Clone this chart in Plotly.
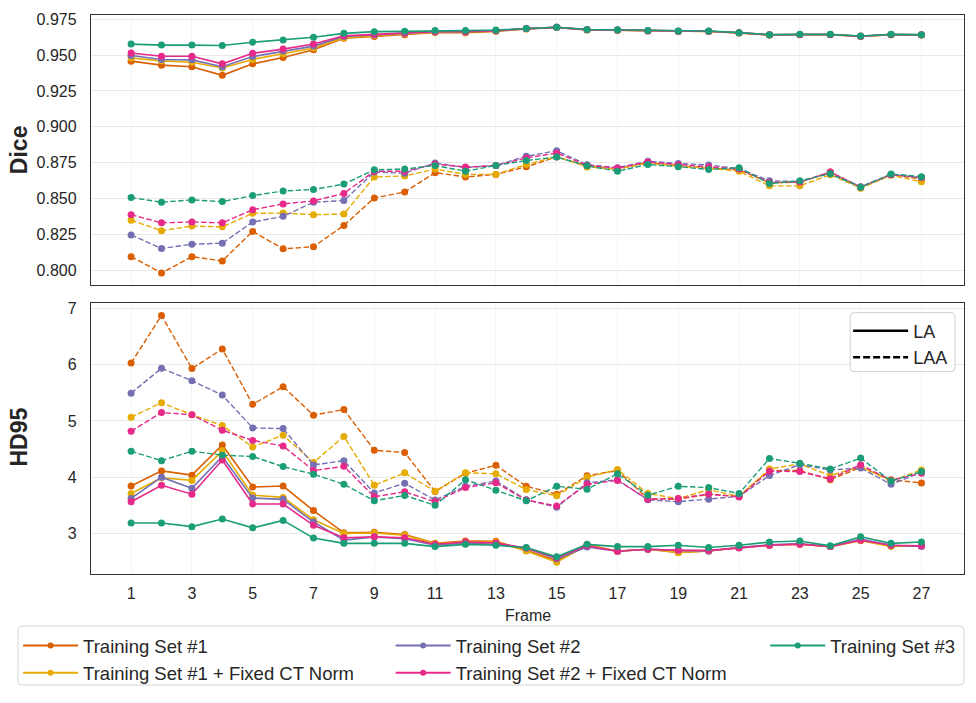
import plotly.graph_objects as go

frames = list(range(1, 28))
tick_frames = list(range(1, 28, 2))

set_names = ["Training Set #1", "Training Set #1 + Fixed CT Norm", "Training Set #2",
             "Training Set #2 + Fixed CT Norm", "Training Set #3"]
set_colors = ["#d95f02", "#e6ab02", "#7570b3", "#e7298a", "#1b9e77"]

dice_la = {
    "Training Set #1": [0.9458, 0.9430, 0.9419, 0.9359, 0.9439, 0.9483, 0.9537, 0.9618, 0.9630, 0.9643, 0.9658, 0.9657, 0.9666, 0.9683, 0.9693, 0.9676, 0.9673, 0.9668, 0.9665, 0.9665, 0.9654, 0.9640, 0.9642, 0.9643, 0.9630, 0.9642, 0.9640],
    "Training Set #1 + Fixed CT Norm": [0.9480, 0.9460, 0.9450, 0.9410, 0.9470, 0.9510, 0.9550, 0.9622, 0.9636, 0.9650, 0.9662, 0.9662, 0.9668, 0.9684, 0.9694, 0.9677, 0.9674, 0.9669, 0.9666, 0.9666, 0.9655, 0.9641, 0.9643, 0.9644, 0.9631, 0.9643, 0.9641],
    "Training Set #2": [0.9497, 0.9470, 0.9467, 0.9419, 0.9490, 0.9529, 0.9563, 0.9630, 0.9640, 0.9652, 0.9664, 0.9664, 0.9670, 0.9685, 0.9694, 0.9677, 0.9675, 0.9670, 0.9667, 0.9667, 0.9656, 0.9642, 0.9644, 0.9644, 0.9632, 0.9644, 0.9642],
    "Training Set #2 + Fixed CT Norm": [0.9515, 0.9492, 0.9492, 0.9439, 0.9513, 0.9542, 0.9577, 0.9635, 0.9645, 0.9655, 0.9665, 0.9665, 0.9671, 0.9685, 0.9694, 0.9678, 0.9676, 0.9670, 0.9667, 0.9667, 0.9656, 0.9642, 0.9644, 0.9644, 0.9632, 0.9644, 0.9642],
    "Training Set #3": [0.9577, 0.9570, 0.9570, 0.9567, 0.9590, 0.9606, 0.9625, 0.9652, 0.9664, 0.9666, 0.9671, 0.9671, 0.9675, 0.9686, 0.9695, 0.9679, 0.9677, 0.9671, 0.9668, 0.9668, 0.9657, 0.9643, 0.9645, 0.9645, 0.9633, 0.9645, 0.9643],
}
dice_laa = {
    "Training Set #1": [0.8094, 0.7980, 0.8094, 0.8064, 0.8270, 0.8149, 0.8163, 0.8312, 0.8504, 0.8545, 0.8680, 0.8650, 0.8668, 0.8721, 0.8790, 0.8725, 0.8705, 0.8750, 0.8730, 0.8710, 0.8700, 0.8610, 0.8613, 0.8684, 0.8575, 0.8666, 0.8636],
    "Training Set #1 + Fixed CT Norm": [0.8348, 0.8275, 0.8307, 0.8302, 0.8396, 0.8398, 0.8387, 0.8391, 0.8650, 0.8657, 0.8705, 0.8668, 0.8668, 0.8737, 0.8792, 0.8720, 0.8705, 0.8748, 0.8725, 0.8712, 0.8690, 0.8588, 0.8588, 0.8666, 0.8572, 0.8662, 0.8616],
    "Training Set #2": [0.8245, 0.8151, 0.8181, 0.8188, 0.8336, 0.8375, 0.8474, 0.8485, 0.8685, 0.8676, 0.8748, 0.8715, 0.8730, 0.8794, 0.8833, 0.8735, 0.8715, 0.8760, 0.8744, 0.8733, 0.8708, 0.8623, 0.8618, 0.8678, 0.8582, 0.8668, 0.8646],
    "Training Set #2 + Fixed CT Norm": [0.8387, 0.8330, 0.8336, 0.8330, 0.8421, 0.8462, 0.8483, 0.8535, 0.8690, 0.8690, 0.8740, 0.8719, 0.8730, 0.8783, 0.8817, 0.8732, 0.8712, 0.8755, 0.8736, 0.8722, 0.8705, 0.8612, 0.8615, 0.8684, 0.8580, 0.8666, 0.8646],
    "Training Set #3": [0.8506, 0.8474, 0.8490, 0.8478, 0.8520, 0.8552, 0.8563, 0.8600, 0.8700, 0.8705, 0.8730, 0.8690, 0.8730, 0.8765, 0.8789, 0.8728, 0.8690, 0.8737, 0.8721, 0.8702, 0.8715, 0.8604, 0.8623, 0.8673, 0.8578, 0.8671, 0.8652],
}
hd95_la = {
    "Training Set #1": [3.844, 4.113, 4.037, 4.573, 3.827, 3.844, 3.407, 3.012, 3.020, 2.983, 2.825, 2.866, 2.860, 2.700, 2.516, 2.800, 2.690, 2.720, 2.663, 2.690, 2.750, 2.790, 2.810, 2.767, 2.883, 2.780, 2.780],
    "Training Set #1 + Fixed CT Norm": [3.711, 3.991, 3.944, 4.469, 3.682, 3.642, 3.245, 3.000, 3.010, 2.970, 2.820, 2.850, 2.850, 2.690, 2.490, 2.790, 2.685, 2.720, 2.663, 2.690, 2.750, 2.790, 2.810, 2.767, 2.870, 2.770, 2.780],
    "Training Set #2": [3.624, 4.002, 3.804, 4.369, 3.629, 3.607, 3.204, 2.883, 2.940, 2.907, 2.790, 2.830, 2.810, 2.740, 2.550, 2.760, 2.685, 2.720, 2.700, 2.690, 2.750, 2.800, 2.820, 2.770, 2.900, 2.790, 2.770],
    "Training Set #2 + Fixed CT Norm": [3.565, 3.857, 3.699, 4.306, 3.524, 3.524, 3.145, 2.925, 2.940, 2.925, 2.810, 2.850, 2.830, 2.740, 2.570, 2.780, 2.685, 2.720, 2.700, 2.700, 2.740, 2.790, 2.810, 2.770, 2.880, 2.790, 2.780],
    "Training Set #3": [3.187, 3.187, 3.122, 3.257, 3.100, 3.233, 2.918, 2.825, 2.825, 2.825, 2.767, 2.807, 2.790, 2.750, 2.586, 2.807, 2.767, 2.767, 2.790, 2.750, 2.790, 2.848, 2.866, 2.780, 2.942, 2.825, 2.848],
}
hd95_laa = {
    "Training Set #1": [6.030, 6.876, 5.932, 6.281, 5.296, 5.610, 5.103, 5.203, 4.480, 4.439, 3.746, 4.072, 4.212, 3.839, 3.699, 4.026, 4.119, 3.620, 3.607, 3.700, 3.660, 4.119, 4.119, 3.956, 4.177, 3.956, 3.897],
    "Training Set #1 + Fixed CT Norm": [5.068, 5.325, 5.110, 4.918, 4.538, 4.748, 4.264, 4.725, 3.857, 4.078, 3.750, 4.080, 4.061, 3.781, 3.670, 4.000, 4.136, 3.710, 3.620, 3.780, 3.660, 4.148, 4.236, 4.030, 4.189, 3.930, 4.130],
    "Training Set #2": [5.495, 5.937, 5.715, 5.460, 4.876, 4.865, 4.219, 4.294, 3.722, 3.892, 3.594, 3.839, 3.932, 3.600, 3.467, 3.900, 3.956, 3.600, 3.565, 3.607, 3.660, 4.030, 4.224, 4.130, 4.165, 3.874, 4.090],
    "Training Set #2 + Fixed CT Norm": [4.818, 5.150, 5.110, 4.836, 4.655, 4.556, 4.119, 4.194, 3.653, 3.740, 3.565, 3.816, 3.900, 3.594, 3.490, 3.874, 3.944, 3.607, 3.624, 3.700, 3.650, 4.107, 4.100, 3.974, 4.224, 3.944, 4.072],
    "Training Set #3": [4.463, 4.294, 4.463, 4.393, 4.369, 4.189, 4.054, 3.874, 3.582, 3.676, 3.501, 3.956, 3.769, 3.582, 3.839, 3.787, 4.061, 3.682, 3.839, 3.816, 3.711, 4.334, 4.247, 4.148, 4.340, 3.932, 4.100],
}

dice_ticks = [0.800, 0.825, 0.850, 0.875, 0.900, 0.925, 0.950, 0.975]
hd95_ticks = [3, 4, 5, 6, 7]

FONT = "Liberation Sans, Arial, sans-serif"
DASH = "5.5px,2.4px"
LEG_FONT = 18.5

fig = go.Figure()

for name, color in zip(set_names, set_colors):
    for data, yax in ((dice_la, "y"), (hd95_la, "y2")):
        fig.add_trace(go.Scatter(x=frames, y=data[name], mode="lines+markers", yaxis=yax, xaxis="x" if yax == "y" else "x2",
                                 line=dict(color=color, width=1.6), marker=dict(color=color, size=7),
                                 showlegend=False, hoverinfo="skip"))
    for data, yax in ((dice_laa, "y"), (hd95_laa, "y2")):
        fig.add_trace(go.Scatter(x=frames, y=data[name], mode="lines+markers", yaxis=yax, xaxis="x" if yax == "y" else "x2",
                                 line=dict(color=color, width=1.4, dash=DASH), marker=dict(color=color, size=7),
                                 showlegend=False, hoverinfo="skip"))

# legend entries (columns)
legend_cols = {"legend": [0, 1], "legend3": [2, 3], "legend4": [4]}
for lg, idxs in legend_cols.items():
    for i in idxs:
        fig.add_trace(go.Scatter(x=[None], y=[None], mode="lines+markers", name=set_names[i], legend=lg,
                                 line=dict(color=set_colors[i], width=2), marker=dict(color=set_colors[i], size=6)))

fig.add_trace(go.Scatter(x=[None], y=[None], mode="lines", name="LA", legend="legend2",
                         line=dict(color="black", width=2.5)))
fig.add_trace(go.Scatter(x=[None], y=[None], mode="lines", name="LAA", legend="legend2",
                         line=dict(color="black", width=2.5, dash="7px,3px")))

def px2x(px):
    return (px - 91) / 874

def px2y(py):
    return (580 - py) / 569

def rounded_box(x0, y0, x1, y1, r=4):
    pts = [
        ("M", x0 + r, y0), ("L", x1 - r, y0), ("Q", x1, y0, x1, y0 + r),
        ("L", x1, y1 - r), ("Q", x1, y1, x1 - r, y1), ("L", x0 + r, y1),
        ("Q", x0, y1, x0, y1 - r), ("L", x0, y0 + r), ("Q", x0, y0, x0 + r, y0),
    ]
    out = []
    for p in pts:
        cmd = p[0]
        coords = p[1:]
        s = []
        for k in range(0, len(coords), 2):
            s.append(f"{px2x(coords[k]):.5f},{px2y(coords[k + 1]):.5f}")
        out.append(cmd + " ".join(s))
    return " ".join(out) + " Z"

axis_common = dict(showline=True, mirror=True, linecolor="#333333", linewidth=1.3,
                   gridcolor="#e8e8e8", gridwidth=1, zeroline=False, ticks="",
                   tickfont=dict(size=16, color="#262626", family=FONT))

def leg(xpx, ypx, **kw):
    d = dict(x=px2x(xpx), y=px2y(ypx), xanchor="left", yanchor="top", orientation="v",
             bgcolor="rgba(0,0,0,0)", borderwidth=0, font=dict(size=LEG_FONT, color="#262626"),
             itemwidth=55, tracegroupgap=0)
    d.update(kw)
    return d

fig.update_layout(
    width=976, height=703,
    margin=dict(l=91, r=11, t=11, b=123),
    paper_bgcolor="white", plot_bgcolor="white",
    font=dict(family=FONT, color="#262626"),
    xaxis=dict(domain=[0, 1], anchor="y", range=[-0.32, 28.4], tickvals=tick_frames,
               showticklabels=False, **{**axis_common, "gridcolor": "#f4f4f4"}),
    yaxis=dict(domain=[px2y(286), 1], anchor="x", range=[0.7895, 0.978], tickvals=dice_ticks,
               tickformat=".3f", ticklabelstandoff=10, **axis_common),
    xaxis2=dict(domain=[0, 1], anchor="y2", range=[-0.32, 28.4], tickvals=tick_frames,
                matches="x", ticklabelstandoff=5, **{**axis_common, "gridcolor": "#f4f4f4"}),
    yaxis2=dict(domain=[0, px2y(304)], anchor="x2", range=[2.28, 7.1], tickvals=hd95_ticks,
                ticklabelstandoff=10, **axis_common),
    legend=leg(18, 634),
    legend3=leg(391, 634),
    legend4=leg(766, 634),
    legend2=leg(849, 314, font=dict(size=18, color="#262626")),
    shapes=[
        dict(type="path", xref="paper", yref="paper", path=rounded_box(18, 633, 965, 693),
             line=dict(color="#d6d6d6", width=1), fillcolor="rgba(255,255,255,0.8)", layer="below"),
        dict(type="path", xref="paper", yref="paper", path=rounded_box(851, 314, 956, 374),
             line=dict(color="#d0d0d0", width=1), fillcolor="rgba(255,255,255,0.85)", layer="above"),
    ],
    annotations=[
        dict(text="<b>Dice</b>", xref="paper", yref="paper", x=px2x(19), y=px2y(148.5),
             textangle=-90, showarrow=False, xanchor="center", yanchor="middle",
             font=dict(size=23, color="#262626", family=FONT)),
        dict(text="<b>HD95</b>", xref="paper", yref="paper", x=px2x(19), y=px2y(441),
             textangle=-90, showarrow=False, xanchor="center", yanchor="middle",
             font=dict(size=23, color="#262626", family=FONT)),
        dict(text="Frame", xref="paper", yref="paper", x=px2x(528), y=px2y(622),
             showarrow=False, xanchor="center", yanchor="middle",
             font=dict(size=16, color="#262626", family=FONT)),
    ],
)

fig.write_html("out.html")
